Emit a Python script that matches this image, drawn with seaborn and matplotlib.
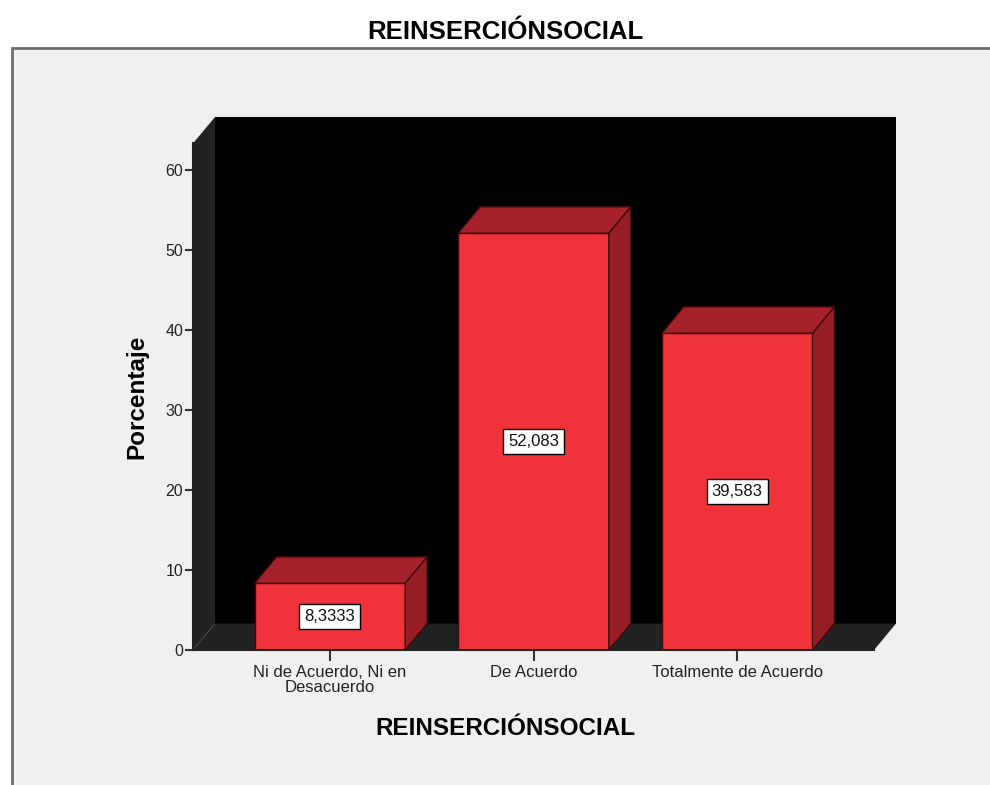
import numpy as np
import pandas as pd
import seaborn as sns
import matplotlib.pyplot as plt
from matplotlib.patches import Polygon, Rectangle

sns.set_style("white")
plt.rcParams['font.family'] = ['Liberation Sans', 'DejaVu Sans']

# data
categories = ["Ni de Acuerdo, Ni en\nDesacuerdo", "De Acuerdo", "Totalmente de Acuerdo"]
porcentaje = [8.3333, 52.083, 39.583]
yticks = [0, 10, 20, 30, 40, 50, 60]

df = pd.DataFrame({"cat": categories, "pct": porcentaje})

red_front = "#f0323a"
red_top = "#a5222a"
red_side = "#951d23"
edge_dark = "#3c0a0c"
wall = "#222222"
panel = "#f0f0f0"

fig = plt.figure(figsize=(9.9, 7.85), dpi=100)
fig.patch.set_facecolor("white")

# gray frame under the title
frame = Rectangle((12 / 990, -0.01), 1.0, 1 - 48 / 785 + 0.01,
                  transform=fig.transFigure, facecolor=panel,
                  edgecolor="#6e6e6e", linewidth=2, zorder=-5)
fig.patches.append(frame)
fig.text(0.51, 1 - 32 / 785, "REINSERCIÓNSOCIAL", ha="center", va="center",
         fontsize=18.5, fontweight="bold", color="black")

# axes: front plane + depth
ax = fig.add_axes([193 / 990, 1 - 650 / 785, (896 - 193) / 990, (650 - 117) / 785])
ax.set_facecolor("none")
ax.set_zorder(2)

x0, x1 = -0.672, 2.672
dx, dy = 0.108, 3.3
ytop = 66.6

# back wall, side wall, floor
ax.add_patch(Polygon([(x0 + dx, dy), (x1 + dx, dy), (x1 + dx, ytop), (x0 + dx, ytop)],
                     closed=True, facecolor="black", edgecolor="none", zorder=0))
ax.add_patch(Polygon([(x0, 0), (x0 + dx, dy), (x0 + dx, ytop), (x0, ytop - dy)],
                     closed=True, facecolor=wall, edgecolor="none", zorder=0.5))
ax.add_patch(Polygon([(x0, 0), (x0 + dx, dy), (x1 + dx, dy), (x1, 0)],
                     closed=True, facecolor=wall, edgecolor="none", zorder=0.5))

sns.barplot(data=df, x="cat", y="pct", color=red_front, saturation=1, width=0.74,
            edgecolor=edge_dark, linewidth=1, ax=ax, zorder=2)
ax.set_xlim(x0, x1 + dx)
ax.set_ylim(0, ytop)

for p, v in zip(ax.patches[-len(porcentaje):], porcentaje):
    bx, bw, bh = p.get_x(), p.get_width(), p.get_height()
    ax.add_patch(Polygon([(bx, bh), (bx + dx, bh + dy), (bx + bw + dx, bh + dy), (bx + bw, bh)],
                         closed=True, facecolor=red_top, edgecolor=edge_dark, linewidth=1, zorder=2))
    ax.add_patch(Polygon([(bx + bw, 0), (bx + bw + dx, dy), (bx + bw + dx, bh + dy), (bx + bw, bh)],
                         closed=True, facecolor=red_side, edgecolor=edge_dark, linewidth=1, zorder=2))
    lab = f"{v:.5g}".replace(".", ",")
    ax.text(bx + bw / 2, bh / 2, lab, ha="center", va="center", fontsize=12, zorder=3,
            color="#111111",
            bbox=dict(boxstyle="square,pad=0.3", facecolor="white", edgecolor="black", linewidth=1))

ax.set_yticks(yticks)
ax.set_xticks(range(len(categories)))
ax.set_xticklabels(categories, fontsize=12, linespacing=0.95)
ax.tick_params(axis="y", direction="out", length=6, width=1.5, color="#333333",
               labelsize=11.5, pad=1, left=True, labelcolor="#222222")
ax.tick_params(axis="x", direction="out", length=8, width=1.5, color="#333333",
               pad=3, bottom=True, labelcolor="#222222")
for s in ["top", "right"]:
    ax.spines[s].set_visible(False)
ax.spines["left"].set_bounds(0, ytop - dy)
ax.spines["bottom"].set_bounds(x0, x1)
for s in ["left", "bottom"]:
    ax.spines[s].set_color("#222222")
    ax.spines[s].set_linewidth(1.5)
    ax.spines[s].set_zorder(4)

ax.set_xlabel("REINSERCIÓNSOCIAL", fontsize=17.5, fontweight="bold", color="black")
ax.xaxis.set_label_coords((505 - 193) / 703, -(717 - 650) / 533)
ax.set_ylabel("Porcentaje", fontsize=17.5, fontweight="bold", color="black")
ax.yaxis.set_label_coords((148 - 193) / 703, (650 - 397) / 533)

fig.savefig("out.png", dpi=100)
